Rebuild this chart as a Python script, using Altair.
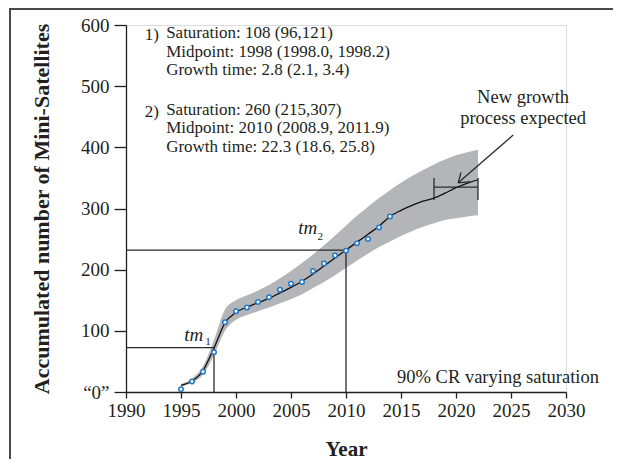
import altair as alt
import pandas as pd

# ---------------- data ----------------
obs_years = list(range(1995, 2015))
obs_values = [4.5, 17, 33, 65, 114, 132, 138, 147, 155, 167, 177, 180, 198, 210, 223, 231, 243, 250, 269, 287]

fit_years = list(range(1995, 2023))
fit_values = [11, 18, 35, 72, 113, 130, 139, 146, 153, 162, 171, 181, 193, 206, 219,
              232, 245, 258, 271, 287, 297, 305, 312, 317, 325, 334, 341, 347]
band_high = [13, 22, 42, 85, 135, 150, 158, 166, 175, 186, 198, 211, 225, 240, 256,
             272, 288, 303, 317, 330, 342, 353, 363, 372, 380, 387, 392, 396]
band_low = [9, 15, 28, 60, 100, 118, 126, 132, 138, 145, 152, 160, 170, 180, 191,
            203, 215, 226, 237, 246, 255, 263, 270, 276, 281, 284, 287, 289]

x_ticks = [1990, 1995, 2000, 2005, 2010, 2015, 2020, 2025, 2030]
y_ticks = [0, 100, 200, 300, 400, 500, 600]

tm1_year, tm1_value = 1998, 72.5
tm2_year, tm2_value = 2010, 232
bar_start, bar_end, bar_value = 2018, 2022, 335
cap_low, cap_high = 314, 350
arrow_tail = (2025.2, 420)
arrow_tip = (2020.2, 342)
barb_a = (2021.3, 344)
barb_b = (2020.45, 359)

info_lines = ["Saturation: 108 (96,121)", "Midpoint: 1998 (1998.0, 1998.2)", "Growth time: 2.8 (2.1, 3.4)",
              "Saturation: 260 (215,307)", "Midpoint: 2010 (2008.9, 2011.9)", "Growth time: 22.3 (18.6, 25.8)"]
info_y = [587, 556, 526, 461, 432, 401]
info_x = 1993.65
num_labels = ["1)", "2)"]
num_y = [584, 458]
num_x = 1991.7

FONT = "Liberation Serif"
INK = "#231f20"

df_fit = pd.DataFrame({"year": fit_years, "fit": fit_values, "lo": band_low, "hi": band_high})
df_obs = pd.DataFrame({"year": obs_years, "value": obs_values})

segs = pd.DataFrame([
    {"x": 1990, "x2": tm1_year, "y": tm1_value, "y2": tm1_value},
    {"x": tm1_year, "x2": tm1_year, "y": 0, "y2": tm1_value},
    {"x": 1990, "x2": tm2_year, "y": tm2_value, "y2": tm2_value},
    {"x": tm2_year, "x2": tm2_year, "y": 0, "y2": tm2_value},
    {"x": bar_start, "x2": bar_end, "y": bar_value, "y2": bar_value},
    {"x": bar_start, "x2": bar_start, "y": cap_low, "y2": cap_high},
    {"x": bar_end, "x2": bar_end, "y": cap_low, "y2": cap_high},
    {"x": arrow_tail[0], "x2": arrow_tip[0], "y": arrow_tail[1], "y2": arrow_tip[1]},
    {"x": arrow_tip[0], "x2": barb_a[0], "y": arrow_tip[1], "y2": barb_a[1]},
    {"x": arrow_tip[0], "x2": barb_b[0], "y": arrow_tip[1], "y2": barb_b[1]},
])

xs = alt.Scale(domain=[1990, 2030], nice=False, zero=False)
ys = alt.Scale(domain=[0, 600], nice=False)

XAXIS = alt.Axis(
    values=x_ticks, format="d", grid=False, title="Year",
    labelFont=FONT, labelFontSize=19, labelColor=INK, labelPadding=3,
    labelOverlap=False, labelFlush=False,
    tickSize=6, tickColor=INK, domainColor=INK, tickWidth=1.3, domainWidth=1.3,
    titleFont=FONT, titleFontSize=21, titleFontWeight="bold", titleColor=INK,
    titleY=63, titleX=220, titleAlign="center", titleBaseline="alphabetic")
YAXIS = alt.Axis(
    values=y_ticks, grid=False, title="Accumulated number of Mini-Satellites",
    labelExpr="datum.value == 0 ? '\u201c0\u201d' : datum.label",
    labelFont=FONT, labelFontSize=19, labelColor=INK, labelPadding=5,
    labelOverlap=False, labelFlush=False,
    tickSize=12, tickColor=INK, domainColor=INK, tickWidth=1.3, domainWidth=1.3,
    titleFont=FONT, titleFontSize=22, titleFontWeight="bold", titleColor=INK,
    titleX=-85, titleY=183.5, titleAngle=270, titleAlign="center", titleBaseline="middle")


def xenc(field):
    return alt.X(field, scale=xs, axis=XAXIS)


def yenc(field):
    return alt.Y(field, scale=ys, axis=YAXIS)


band = alt.Chart(df_fit).mark_area(color="#b4b5b8", interpolate="monotone").encode(
    x=xenc("year:Q"), y=yenc("lo:Q"), y2="hi:Q")
line = alt.Chart(df_fit).mark_line(color="#111111", strokeWidth=1.3, interpolate="monotone").encode(
    x=xenc("year:Q"), y=yenc("fit:Q"))
pts = alt.Chart(df_obs).mark_point(filled=True, fill="white", stroke="#1f78c8", strokeWidth=1.5,
                                   size=20, opacity=1).encode(
    x=xenc("year:Q"), y=yenc("value:Q"))
rules = alt.Chart(segs).mark_rule(color="#2a2a2a", strokeWidth=1.3).encode(
    x=xenc("x:Q"), x2="x2:Q", y=yenc("y:Q"), y2="y2:Q")

df_info = pd.DataFrame({"t": info_lines, "x": info_x, "y": info_y})
info = alt.Chart(df_info).mark_text(font=FONT, fontSize=17, align="left", baseline="middle", color=INK).encode(
    x=xenc("x:Q"), y=yenc("y:Q"), text="t:N")
df_num = pd.DataFrame({"t": num_labels, "x": num_x, "y": num_y})
nums = alt.Chart(df_num).mark_text(font=FONT, fontSize=17, align="left", baseline="middle", color=INK).encode(
    x=xenc("x:Q"), y=yenc("y:Q"), text="t:N")

df_tm = pd.DataFrame({"t": ["tm", "tm"], "x": [1997.03, 2007.39], "y": [93, 268]})
tm = alt.Chart(df_tm).mark_text(font=FONT, fontSize=19, fontStyle="italic", align="right",
                                baseline="middle", color=INK).encode(
    x=xenc("x:Q"), y=yenc("y:Q"), text="t:N")
df_sub = pd.DataFrame({"t": ["1", "2"], "x": [1997.45, 2007.65], "y": [82, 253]})
sub = alt.Chart(df_sub).mark_text(font=FONT, fontSize=11, align="center", baseline="middle", color=INK).encode(
    x=xenc("x:Q"), y=yenc("y:Q"), text="t:N")

df_new = pd.DataFrame({"t": ["New growth", "process expected"], "x": [2026.1, 2026.1], "y": [482, 448]})
newg = alt.Chart(df_new).mark_text(font=FONT, fontSize=18.5, align="center", baseline="middle", color=INK).encode(
    x=xenc("x:Q"), y=yenc("y:Q"), text="t:N")
df_cr = pd.DataFrame({"t": ["90% CR varying saturation"], "x": [2033.0], "y": [15]})
cr = alt.Chart(df_cr).mark_text(font=FONT, fontSize=18.5, align="right", baseline="alphabetic", color=INK).encode(
    x=xenc("x:Q"), y=yenc("y:Q"), text="t:N")

frame_top = alt.Chart(df_cr).mark_rule(color="#4a4a4a", strokeWidth=2).encode(
    x=alt.value(-117), x2=alt.value(490), y=alt.value(-16))
frame_left = alt.Chart(df_cr).mark_rule(color="#4a4a4a", strokeWidth=2).encode(
    x=alt.value(-116), y=alt.value(-17), y2=alt.value(450))

chart = alt.layer(band, line, rules, pts, info, nums, tm, sub, newg, cr, frame_top, frame_left).properties(
    width=440, height=367,
    autosize=alt.AutoSizeParams(type="none"),
    padding={"left": 118, "top": 17, "right": 47, "bottom": 67},
).configure_view(stroke=None).configure(font=FONT)

chart.save("out.html", embed_options={"renderer": "svg", "actions": False})
